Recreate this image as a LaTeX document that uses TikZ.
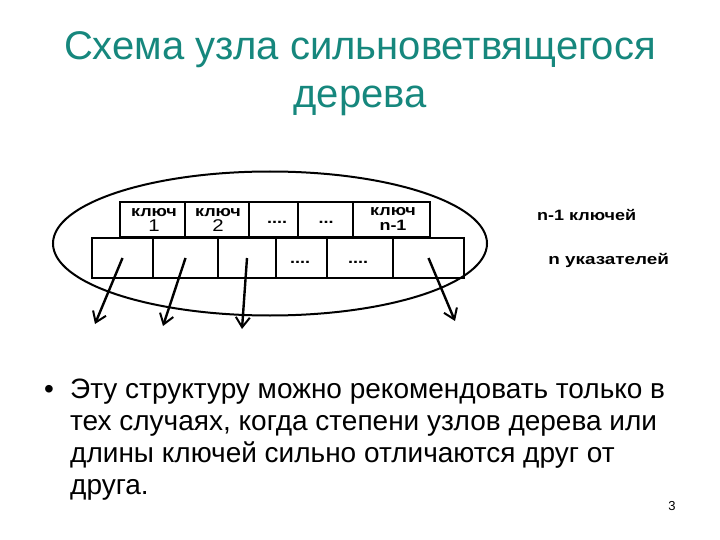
\documentclass[tikz,border=0pt]{standalone}
\usepackage{fontspec}
\setmainfont{Liberation Sans}
\usetikzlibrary{arrows.meta,shapes.geometric}
\definecolor{titleteal}{RGB}{22,135,125}
\newcommand{\bignum}[1]{{\fontsize{17}{16}\selectfont\mdseries #1}}
\tikzset{
  cell/.style={draw, line width=2.4pt, inner sep=0pt, anchor=center},
  lbl/.style={font=\fontsize{15}{15.5}\selectfont\bfseries, align=center, inner sep=0pt, xscale=1.2},
  ptr/.style={line width=2.4pt, -{Straight Barb[length=10pt,width=14pt,line width=2pt]}},
  body/.style={font=\fontsize{28}{32}\selectfont, anchor=base west, inner sep=0pt},
}
\begin{document}
\begin{tikzpicture}[x=1pt,y=-1pt]
\useasboundingbox (0,0) rectangle (720,540);
% title
\node[titleteal, font=\fontsize{40}{50}\selectfont, anchor=base] (t1) at (360,60) {Схема узла сильноветвящегося};
\node[titleteal, font=\fontsize{40}{50}\selectfont, anchor=base] (t2) at (360,108) {дерева};
% ellipse
\node[draw, ellipse, line width=2pt, minimum width=434pt, minimum height=144pt, inner sep=0pt] (ell) at (270,243.5) {};
% upper row (keys)
\node[cell, minimum width=65pt, minimum height=35pt] (k1) at (152.5,219.5) {};
\node[cell, minimum width=64pt, minimum height=35pt] (k2) at (217,219.5) {};
\node[cell, minimum width=49pt, minimum height=35pt] (k3) at (273.5,219.5) {};
\node[cell, minimum width=55pt, minimum height=35pt] (k4) at (325.5,219.5) {};
\node[cell, minimum width=77pt, minimum height=35pt] (k5) at (391.5,219.5) {};
\node[lbl] (k1t) at (154,220) {ключ\\\bignum{1}};
\node[lbl] (k2t) at (218,220) {ключ\\\bignum{2}};
\node[lbl] (k3t) at (277,222) {....};
\node[lbl] (k4t) at (326,222) {...};
\node[lbl] (k5t) at (393,219) {ключ\\n-1};
% lower row (pointers)
\node[cell, minimum width=61pt, minimum height=40pt] (p1) at (122.5,258) {};
\node[cell, minimum width=65pt, minimum height=40pt] (p2) at (185.5,258) {};
\node[cell, minimum width=58pt, minimum height=40pt] (p3) at (247,258) {};
\node[cell, minimum width=51pt, minimum height=40pt] (p4) at (301.5,258) {};
\node[cell, minimum width=66pt, minimum height=40pt] (p5) at (360,258) {};
\node[cell, minimum width=71pt, minimum height=40pt] (p6) at (428.5,258) {};
\node[lbl] (p4t) at (300,262) {....};
\node[lbl] (p5t) at (358,262) {....};
% pointer arrows
\coordinate (e1) at (95,324);
\coordinate (e2) at (163,326);
\coordinate (e3) at (242,329);
\coordinate (e4) at (455,321);
\draw[ptr] (p1.center) -- (e1);
\draw[ptr] (p2.center) -- (e2);
\draw[ptr] (p3.center) -- (e3);
\draw[ptr] (p6.center) -- (e4);
% right labels
\node[lbl, anchor=west] (r1) at (537,215) {n-1 ключей};
\node[lbl, anchor=west, xscale=1.05] (r2) at (548,260) {n указателей};
% bullet text
\node[body] (bul) at (44,398) {•};
\node[body] (l1) at (70,398) {Эту структуру можно рекомендовать только в};
\node[body] (l2) at (70,430) {тех случаях, когда степени узлов дерева или};
\node[body] (l3) at (70,462) {длины ключей сильно отличаются друг от};
\node[body] (l4) at (70,494) {друга.};
\node[font=\fontsize{13}{14}\selectfont, anchor=base] (pg) at (672,510) {3};
\end{tikzpicture}
\end{document}
